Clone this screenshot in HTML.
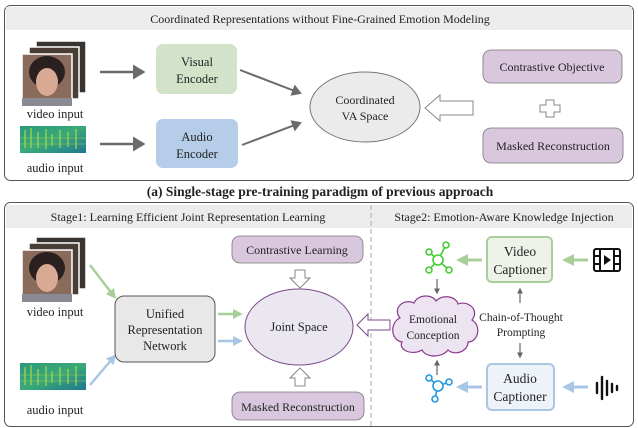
<!DOCTYPE html>
<html><head><meta charset="utf-8"><style>
html,body{margin:0;padding:0;background:#fff;width:638px;height:428px;overflow:hidden}
text{font-family:"Liberation Serif",serif;fill:#222}
</style></head><body>
<svg width="638" height="428" viewBox="0 0 638 428" xmlns="http://www.w3.org/2000/svg">
<defs>
<marker id="ag" markerWidth="6" markerHeight="6" refX="4" refY="3" orient="auto" markerUnits="strokeWidth"><path d="M0,0 L5,3 L0,6z" fill="#6b6b6b"/></marker>
<marker id="ag2" markerWidth="5" markerHeight="5" refX="3" refY="2.5" orient="auto"><path d="M0,0 L5,2.5 L0,5z" fill="#666"/></marker>
<marker id="agr" markerWidth="4" markerHeight="4" refX="2" refY="2" orient="auto"><path d="M0,0 L4,2 L0,4z" fill="#a8cf98"/></marker>
<marker id="abl" markerWidth="4" markerHeight="4" refX="2" refY="2" orient="auto"><path d="M0,0 L4,2 L0,4z" fill="#a9c6e4"/></marker>
<linearGradient id="spec" x1="0" y1="0" x2="1" y2="1"><stop offset="0" stop-color="#2a9a7a"/><stop offset=".5" stop-color="#3aa878"/><stop offset="1" stop-color="#1e7890"/></linearGradient>
<g id="frames">
<rect x="36" y="41" width="50" height="52" fill="#3a3430" stroke="#fff" stroke-width="1.5"/>
<rect x="29" y="47" width="50" height="52" fill="#4a3d36" stroke="#fff" stroke-width="1.5"/>
<rect x="22" y="54" width="50" height="52" fill="#8a6a5a" stroke="#fff" stroke-width="1.5"/>
<ellipse cx="47" cy="72" rx="18" ry="16" fill="#2a2020"/>
<ellipse cx="47" cy="82" rx="11" ry="14" fill="#d8aa94"/>
<rect x="22" y="98" width="50" height="8" fill="#8a8a95"/>
</g>
<g id="spec1">
<rect x="20" y="0" width="66" height="27" fill="url(#spec)"/>
<path d="M25 4v18M31 2v20M38 6v16M46 3v20M52 8v12M60 4v18M68 6v15M76 3v20" stroke="#b8e04a" stroke-width="1.5" opacity=".7"/>
<path d="M20 12h66M20 18h66" stroke="#9ad050" stroke-width="1" opacity=".5"/>
</g>
</defs>

<!-- TOP PANEL -->
<rect x="4.5" y="5.5" width="629" height="175" rx="6" fill="#fff" stroke="#555" stroke-width="1"/>
<rect x="6" y="7" width="626" height="23" fill="#ececec"/>
<text x="320" y="23" font-size="12" text-anchor="middle">Coordinated Representations without Fine-Grained Emotion Modeling</text>
<use href="#frames"/>
<text x="55" y="118" font-size="12.5" text-anchor="middle">video input</text>
<use href="#spec1" transform="translate(0,126)"/>
<text x="55" y="172" font-size="12.5" text-anchor="middle">audio input</text>
<line x1="100" y1="72" x2="143" y2="72" stroke="#6b6b6b" stroke-width="2.5" marker-end="url(#ag)"/>
<line x1="100" y1="144" x2="143" y2="144" stroke="#6b6b6b" stroke-width="2.5" marker-end="url(#ag)"/>
<rect x="156" y="44" width="81" height="50" rx="7" fill="#d3e3ca"/>
<text x="197" y="66" font-size="12.5" text-anchor="middle">Visual</text>
<text x="197" y="83" font-size="12.5" text-anchor="middle">Encoder</text>
<rect x="156" y="119" width="82" height="49" rx="7" fill="#b5cde8"/>
<text x="197" y="141" font-size="12.5" text-anchor="middle">Audio</text>
<text x="197" y="158" font-size="12.5" text-anchor="middle">Encoder</text>
<line x1="240" y1="70" x2="300" y2="93" stroke="#6b6b6b" stroke-width="2" marker-end="url(#ag)"/>
<line x1="242" y1="145" x2="300" y2="123" stroke="#6b6b6b" stroke-width="2" marker-end="url(#ag)"/>
<ellipse cx="365" cy="107" rx="55" ry="35" fill="#ebebeb" stroke="#777" stroke-width="1"/>
<text x="365" y="104" font-size="12" text-anchor="middle">Coordinated</text>
<text x="365" y="120" font-size="12" text-anchor="middle">VA Space</text>
<path d="M425,108 L440,95 L440,101 L473,101 L473,115 L440,115 L440,121 Z" fill="#fff" stroke="#888" stroke-width="1"/>
<rect x="483" y="50" width="139" height="33" rx="8" fill="#d9c8dd" stroke="#777" stroke-width="0.8"/>
<text x="552" y="71" font-size="12" text-anchor="middle">Contrastive Objective</text>
<path d="M546,100 h8 v5 h6 v7 h-6 v5 h-8 v-5 h-6 v-7 h6z" fill="#fff" stroke="#888"/>
<rect x="483" y="128" width="140" height="35" rx="8" fill="#d9c8dd" stroke="#777" stroke-width="0.8"/>
<text x="553" y="150" font-size="12" text-anchor="middle">Masked Reconstruction</text>
<text x="320" y="196" font-size="13.5" font-weight="bold" text-anchor="middle">(a) Single-stage pre-training  paradigm of previous approach</text>

<!-- BOTTOM PANEL -->
<rect x="4.5" y="202.5" width="629" height="224" rx="6" fill="#fff" stroke="#555" stroke-width="1"/>
<rect x="6" y="205" width="626" height="23" fill="#ececec"/>
<line x1="371" y1="205" x2="371" y2="426" stroke="#aaa" stroke-width="1" stroke-dasharray="5,3"/>
<text x="188" y="221" font-size="12" text-anchor="middle">Stage1: Learning Efficient Joint Representation Learning</text>
<text x="504" y="221" font-size="12" text-anchor="middle">Stage2: Emotion-Aware Knowledge Injection</text>
<use href="#frames" transform="translate(0,196)"/>
<text x="55" y="316" font-size="12.5" text-anchor="middle">video input</text>
<use href="#spec1" transform="translate(0,363)"/>
<text x="55" y="414" font-size="12.5" text-anchor="middle">audio input</text>
<line x1="90" y1="265" x2="113" y2="295" stroke="#a8cf98" stroke-width="2.5" marker-end="url(#agr)"/>
<line x1="90" y1="385" x2="113" y2="358" stroke="#a9c6e4" stroke-width="2.5" marker-end="url(#abl)"/>
<rect x="115" y="296" width="100" height="66" rx="9" fill="#e8e8e8" stroke="#555" stroke-width="1"/>
<text x="165" y="318" font-size="12.5" text-anchor="middle">Unified</text>
<text x="165" y="334" font-size="12.5" text-anchor="middle">Representation</text>
<text x="165" y="350" font-size="12.5" text-anchor="middle">Network</text>
<line x1="218" y1="314" x2="238" y2="314" stroke="#a8cf98" stroke-width="2.5" marker-end="url(#agr)"/>
<line x1="218" y1="341" x2="238" y2="341" stroke="#a9c6e4" stroke-width="2.5" marker-end="url(#abl)"/>
<ellipse cx="299" cy="327" rx="54" ry="38" fill="#ebe7f0" stroke="#7a4a8a" stroke-width="1"/>
<text x="299" y="331" font-size="12.5" text-anchor="middle">Joint Space</text>
<rect x="232" y="236" width="131" height="27" rx="8" fill="#d9c8dd" stroke="#777" stroke-width="0.8"/>
<text x="297" y="254" font-size="12" text-anchor="middle">Contrastive Learning</text>
<path d="M295,270 h10 v8 h5 l-10,10 l-10,-10 h5z" fill="#fff" stroke="#888"/>
<path d="M295,386 h10 v-8 h5 l-10,-10 l-10,10 h5z" fill="#fff" stroke="#888"/>
<rect x="232" y="392" width="132" height="28" rx="8" fill="#d9c8dd" stroke="#777" stroke-width="0.8"/>
<text x="298" y="411" font-size="12" text-anchor="middle">Masked Reconstruction</text>
<path d="M357,325 L368,314 L368,320 L390,320 L390,330 L368,330 L368,336 Z" fill="#fff" stroke="#7a4a8a" stroke-width="1"/>
<!-- cloud -->
<path d="M400,318 C392,308 404,298 414,303 C418,294 432,294 436,301 C442,294 456,296 458,304 C468,300 480,310 472,320 C482,326 478,342 468,342 C468,352 454,356 448,350 C442,358 426,358 422,350 C412,356 398,350 402,342 C390,340 390,322 400,318 Z" fill="#ece4f0" stroke="#8a3a8a" stroke-width="1.2"/>
<text x="433" y="323" font-size="11.5" text-anchor="middle">Emotional</text>
<text x="433" y="339" font-size="11.5" text-anchor="middle">Conception</text>
<!-- graph icons -->
<g stroke="#44cc33" stroke-width="1.6" fill="#fff">
<line x1="438" y1="260" x2="429" y2="252"/><line x1="438" y1="260" x2="446" y2="245"/><line x1="438" y1="260" x2="429" y2="270"/><line x1="438" y1="260" x2="449" y2="270"/>
<circle cx="438" cy="260" r="5"/><circle cx="429" cy="252" r="3"/><circle cx="446" cy="245" r="3"/><circle cx="429" cy="270" r="3"/><circle cx="449" cy="270" r="3"/>
</g>
<g stroke="#2299dd" stroke-width="1.6" fill="#fff">
<line x1="438" y1="386" x2="429" y2="378"/><line x1="438" y1="386" x2="449" y2="382"/><line x1="438" y1="386" x2="435" y2="398"/>
<circle cx="438" cy="386" r="5"/><circle cx="429" cy="378" r="3"/><circle cx="449" cy="382" r="3"/><circle cx="435" cy="399" r="3"/>
</g>
<line x1="437" y1="279" x2="437" y2="292" stroke="#666" stroke-width="1.2" marker-end="url(#ag2)"/>
<line x1="437" y1="375" x2="437" y2="362" stroke="#666" stroke-width="1.2" marker-end="url(#ag2)"/>
<rect x="487" y="237" width="65" height="45" rx="5" fill="#eef3ea" stroke="#a8cf98" stroke-width="2"/>
<text x="520" y="256" font-size="13.5" text-anchor="middle">Video</text>
<text x="520" y="274" font-size="13.5" text-anchor="middle">Captioner</text>
<rect x="487" y="364" width="67" height="46" rx="5" fill="#eef3fa" stroke="#a9c6e4" stroke-width="2"/>
<text x="520" y="383" font-size="13.5" text-anchor="middle">Audio</text>
<text x="520" y="401" font-size="13.5" text-anchor="middle">Captioner</text>
<line x1="482" y1="260" x2="462" y2="260" stroke="#a8cf98" stroke-width="3" marker-end="url(#agr)"/>
<line x1="588" y1="260" x2="568" y2="260" stroke="#a8cf98" stroke-width="3" marker-end="url(#agr)"/>
<line x1="482" y1="387" x2="462" y2="387" stroke="#a9c6e4" stroke-width="3" marker-end="url(#abl)"/>
<line x1="588" y1="387" x2="568" y2="387" stroke="#a9c6e4" stroke-width="3" marker-end="url(#abl)"/>
<text x="521" y="321" font-size="11.5" text-anchor="middle">Chain-of-Thought</text>
<text x="521" y="336" font-size="11.5" text-anchor="middle">Prompting</text>
<line x1="520" y1="303" x2="520" y2="290" stroke="#666" stroke-width="1.2" marker-end="url(#ag2)"/>
<line x1="520" y1="343" x2="520" y2="356" stroke="#666" stroke-width="1.2" marker-end="url(#ag2)"/>
<!-- film icon -->
<g stroke="#111" stroke-width="2" fill="none">
<rect x="594" y="249" width="26" height="22" rx="2"/>
<line x1="600" y1="249" x2="600" y2="271"/><line x1="614" y1="249" x2="614" y2="271"/>
<line x1="594" y1="256" x2="600" y2="256"/><line x1="594" y1="264" x2="600" y2="264"/>
<line x1="614" y1="256" x2="620" y2="256"/><line x1="614" y1="264" x2="620" y2="264"/>
</g>
<path d="M604,255 L611,260 L604,265z" fill="#111"/>
<!-- sound icon -->
<g stroke="#111" stroke-width="2.4" stroke-linecap="round">
<line x1="597" y1="383" x2="597" y2="393"/><line x1="602" y1="377" x2="602" y2="399"/><line x1="607" y1="381" x2="607" y2="395"/><line x1="612" y1="384" x2="612" y2="392"/><line x1="617" y1="386" x2="617" y2="390"/>
</g>
</svg>
</body></html>
